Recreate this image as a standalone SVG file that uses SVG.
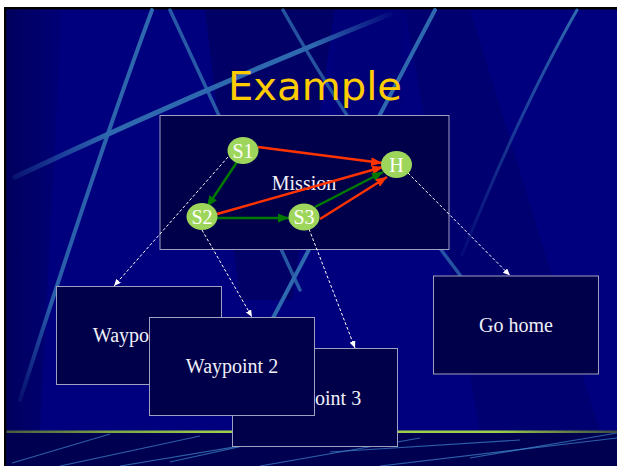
<svg xmlns="http://www.w3.org/2000/svg" width="617" height="466" viewBox="0 0 617 466">
  <defs>
    <style>
      .box { fill: #00004a; stroke: #a0a0c0; stroke-width: 1; }
      .lbl { font-family: "Liberation Serif", "Times New Roman", serif; font-size: 20px; fill: #f0f0f8; text-anchor: middle; }
      .state { fill: #9ed65c; }
      .slbl { font-family: "Liberation Serif", "Times New Roman", serif; font-size: 20px; fill: #ffffff; text-anchor: middle; }
      .red { stroke: #ff3300; stroke-width: 2.5; fill: none; marker-end: url(#ah-red); }
      .green { stroke: #007a00; stroke-width: 2.5; fill: none; marker-end: url(#ah-green); }
      .dash { stroke: #ffffff; stroke-width: 1; stroke-dasharray: 3 2; fill: none; marker-end: url(#ah-white); }
      .streak { fill: none; stroke-linecap: round; }
      .floor { stroke: #3f86cc; stroke-width: 1.2; fill: none; opacity: 0.7; }
    </style>
    <marker id="ah-red" markerUnits="userSpaceOnUse" markerWidth="11" markerHeight="9" refX="11" refY="4.5" orient="auto">
      <path d="M0,0 L11,4.5 L0,9 z" fill="#ff3300"/>
    </marker>
    <marker id="ah-green" markerUnits="userSpaceOnUse" markerWidth="11" markerHeight="9" refX="11" refY="4.5" orient="auto">
      <path d="M0,0 L11,4.5 L0,9 z" fill="#007a00"/>
    </marker>
    <marker id="ah-white" markerUnits="userSpaceOnUse" markerWidth="7" markerHeight="6" refX="7" refY="3" orient="auto">
      <path d="M0,0 L7,3 L0,6 z" fill="#ffffff"/>
    </marker>
    <linearGradient id="bar" x1="0" y1="0" x2="1" y2="0">
      <stop offset="0" stop-color="#4a5a40"/>
      <stop offset="0.18" stop-color="#7ea844"/>
      <stop offset="0.35" stop-color="#9fd04a"/>
      <stop offset="0.8" stop-color="#9fd04a"/>
      <stop offset="1" stop-color="#3c4a44"/>
    </linearGradient>
    <linearGradient id="fadeC" x1="15" y1="177" x2="390" y2="15" gradientUnits="userSpaceOnUse">
      <stop offset="0" stop-color="#2e68ae" stop-opacity="0.2"/>
      <stop offset="0.25" stop-color="#2e68ae" stop-opacity="1"/>
      <stop offset="0.8" stop-color="#2e68ae" stop-opacity="1"/>
      <stop offset="1" stop-color="#2e68ae" stop-opacity="0.1"/>
    </linearGradient>
    <linearGradient id="fadeA" x1="152" y1="10" x2="20" y2="400" gradientUnits="userSpaceOnUse">
      <stop offset="0" stop-color="#2e68ae" stop-opacity="1"/>
      <stop offset="0.75" stop-color="#2e68ae" stop-opacity="0.9"/>
      <stop offset="1" stop-color="#2e68ae" stop-opacity="0.15"/>
    </linearGradient>
    <linearGradient id="fadeF" x1="577" y1="10" x2="462" y2="255" gradientUnits="userSpaceOnUse">
      <stop offset="0" stop-color="#2e68ae" stop-opacity="1"/>
      <stop offset="1" stop-color="#2e68ae" stop-opacity="0.1"/>
    </linearGradient>
    <linearGradient id="shadeL" x1="0" y1="0" x2="1" y2="0">
      <stop offset="0" stop-color="#000050" stop-opacity="0.7"/>
      <stop offset="1" stop-color="#000050" stop-opacity="0.15"/>
    </linearGradient>
  </defs>

  <!-- slide frame -->
  <rect x="0" y="0" width="617" height="466" fill="#ffffff"/>
  <rect x="4" y="7" width="613" height="459" fill="#000000"/>
  <rect x="6.5" y="9.5" width="611" height="457" fill="#00007e"/>

  <!-- background shading -->
  <polygon points="6.5,9.5 62,9.5 40,432 6.5,432" fill="url(#shadeL)"/>
  <polygon points="205,9.5 335,9.5 292,300 240,300" fill="#00004e" opacity="0.5"/>
  <polygon points="405,9.5 470,9.5 600,432 480,432" fill="#000058" opacity="0.35"/>
  <polygon points="335,9.5 405,9.5 395,250 330,250" fill="#000066" opacity="0.25"/>

  <!-- light streaks -->
  <path class="streak" d="M152,10 Q100,150 20,400" stroke="url(#fadeA)" stroke-width="4"/>
  <path class="streak" d="M170,10 L300,290" stroke="#2e68ae" stroke-width="3.5" opacity="0.85"/>
  <path class="streak" d="M283,10 Q350,130 460,275" stroke="#2e68ae" stroke-width="3.5" opacity="0.8"/>
  <path class="streak" d="M435,10 L273,318" stroke="#2e68ae" stroke-width="4"/>
  <path class="streak" d="M577,10 Q520,110 462,255" stroke="url(#fadeF)" stroke-width="3"/>
  <path class="streak" d="M15,177 Q200,90 390,14" stroke="url(#fadeC)" stroke-width="5"/>

  <!-- floor band -->
  <rect x="6.5" y="432" width="611" height="34" fill="#000050"/>
  <path class="floor" d="M12,463 L110,434"/>
  <path class="floor" d="M60,466 L200,436"/>
  <path class="floor" d="M120,466 L300,436"/>
  <path class="floor" d="M170,462 L270,440"/>
  <path class="floor" d="M260,466 L420,438"/>
  <path class="floor" d="M380,466 L617,438"/>
  <path class="floor" d="M470,458 L617,433"/>
  <path class="floor" d="M330,452 L520,440"/>
  <rect x="6.5" y="430.5" width="611" height="2.5" fill="url(#bar)"/>

  <!-- title -->
  <text x="315" y="100" font-family="DejaVu Sans, Verdana, sans-serif" font-size="39" fill="#ffcc00" text-anchor="middle" textLength="174" lengthAdjust="spacingAndGlyphs">Example</text>

  <!-- mission container -->
  <g id="mission">
    <rect class="box" x="160" y="115.5" width="289" height="134"/>
    <text class="lbl" x="304" y="190">Mission</text>
  </g>

  <!-- connectors -->
  <g id="connectors">
    <line class="red" x1="258" y1="147" x2="382" y2="163"/>
    <line class="red" x1="217" y1="214" x2="383" y2="167"/>
    <line class="green" x1="315" y1="207" x2="383" y2="172"/>
    <line class="red" x1="320" y1="219" x2="387" y2="177"/>
    <line class="green" x1="237" y1="162" x2="207" y2="207"/>
    <line class="green" x1="217" y1="218" x2="289" y2="218"/>
    <line class="dash" x1="228" y1="157" x2="114" y2="286"/>
    <line class="dash" x1="202" y1="230" x2="252" y2="317"/>
    <line class="dash" x1="309" y1="229" x2="355" y2="348"/>
    <line class="dash" x1="408" y1="173" x2="510" y2="275.5"/>
  </g>

  <!-- states -->
  <g id="s1">
    <ellipse class="state" cx="243" cy="150.5" rx="15.5" ry="13.5"/>
    <text class="slbl" x="243" y="157.5">S1</text>
  </g>
  <g id="s2">
    <ellipse class="state" cx="202" cy="216.5" rx="15.5" ry="13.5"/>
    <text class="slbl" x="202" y="223.5">S2</text>
  </g>
  <g id="s3">
    <ellipse class="state" cx="304" cy="217" rx="15.5" ry="13.5"/>
    <text class="slbl" x="304" y="224">S3</text>
  </g>
  <g id="h">
    <ellipse class="state" cx="396.5" cy="164.5" rx="15.5" ry="13.5"/>
    <text class="slbl" x="396.5" y="171.5">H</text>
  </g>

  <!-- task boxes -->
  <g id="waypoint1">
    <rect class="box" x="56.5" y="286.5" width="165" height="98"/>
    <text class="lbl" x="139" y="342">Waypoint 1</text>
  </g>
  <g id="waypoint3">
    <rect class="box" x="232.5" y="348.5" width="165" height="98"/>
    <text class="lbl" x="315" y="405">Waypoint 3</text>
  </g>
  <g id="waypoint2">
    <rect class="box" x="149.5" y="317.5" width="165" height="98"/>
    <text class="lbl" x="232" y="373">Waypoint 2</text>
  </g>
  <g id="gohome">
    <rect class="box" x="433.5" y="276" width="165" height="98"/>
    <text class="lbl" x="516" y="332">Go home</text>
  </g>
</svg>
